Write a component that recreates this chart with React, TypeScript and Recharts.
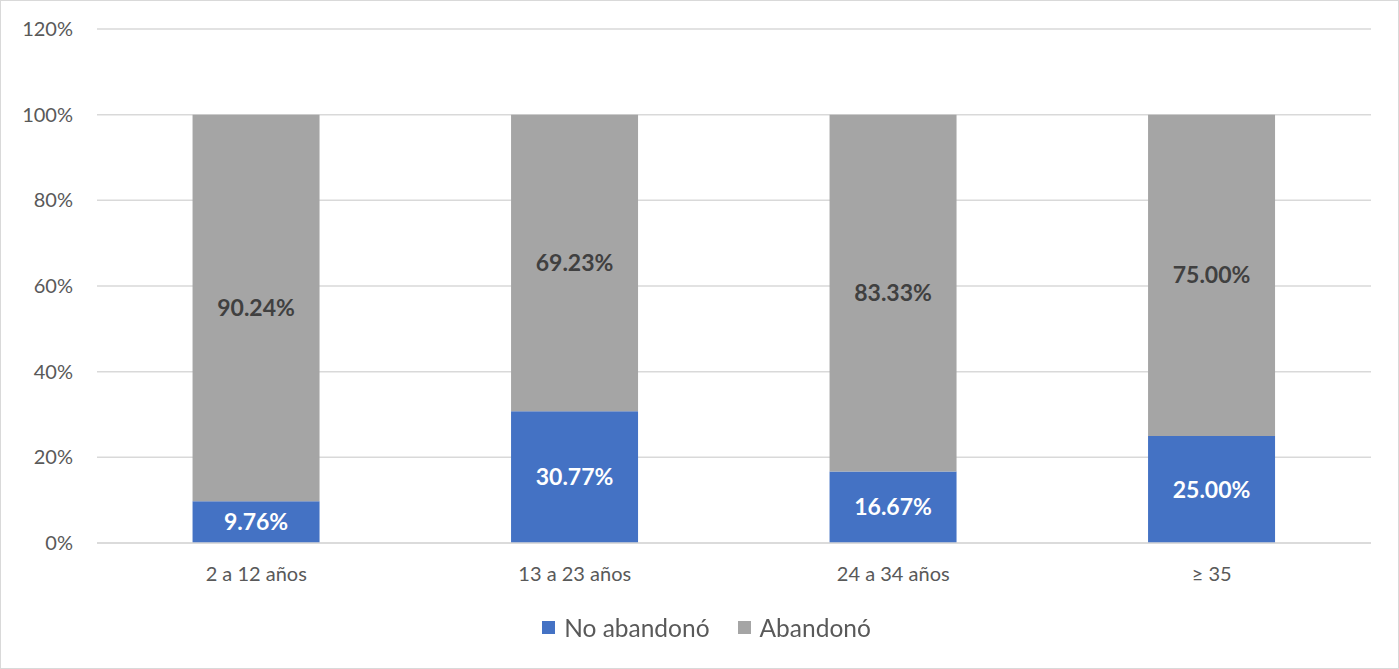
import { BarChart, Bar, XAxis, YAxis, CartesianGrid, Legend, LabelList } from 'recharts';

const categories = ['2 a 12 años', '13 a 23 años', '24 a 34 años', '≥ 35'];
const noAbandono = [9.76, 30.77, 16.67, 25.0];
const abandono = [90.24, 69.23, 83.33, 75.0];
const yTicks = [0, 20, 40, 60, 80, 100, 120];

const BLUE = '#4472C4';
const GREY = '#A5A5A5';
const TEXT = '#595959';
const FONT = 'Lato, sans-serif';

const data = categories.map((c, i) => ({ name: c, no: noAbandono[i], ab: abandono[i] }));

function fmt(v: unknown) {
  return `${Number(v).toFixed(2)}%`;
}

function LegendContent() {
  const items = [
    { label: 'No abandonó', color: BLUE },
    { label: 'Abandonó', color: GREY },
  ];
  return (
    <div style={{ display: 'flex', justifyContent: 'center', gap: 28, fontFamily: FONT, fontSize: 24.5, color: TEXT }}>
      {items.map((it) => (
        <div key={it.label} style={{ display: 'flex', alignItems: 'center' }}>
          <span style={{ display: 'inline-block', width: 13, height: 13, background: it.color, marginRight: 9 }} />
          <span>{it.label}</span>
        </div>
      ))}
    </div>
  );
}

export default function App() {
  return (
    <div
      style={{
        position: 'fixed', left: 0, top: 0, width: 1397, height: 667,
        border: '1px solid #d9d9d9', background: '#fff',
      }}
    >
      <BarChart
        width={1397}
        height={667}
        data={data}
        margin={{ top: 28, right: 27, left: 0, bottom: 65 }}
        barCategoryGap="30%"
      >
        <CartesianGrid vertical={false} stroke="#d9d9d9" strokeWidth={1.5} />
        <XAxis
          dataKey="name"
          tick={{ fill: TEXT, fontSize: 20, fontFamily: FONT }}
          axisLine={{ stroke: '#d9d9d9', strokeWidth: 1.5 }}
          tickLine={false}
          tickMargin={18}
          height={60}
        />
        <YAxis
          domain={[0, 120]}
          ticks={yTicks}
          tickFormatter={(v) => `${v}%`}
          tick={{ fill: TEXT, fontSize: 20, fontFamily: FONT }}
          axisLine={false}
          tickLine={false}
          tickMargin={18}
          width={96}
        />
        <Legend
          verticalAlign="middle"
          align="center"
          wrapperStyle={{ top: 612, left: 7, width: 1397 }}
          content={<LegendContent />}
        />
        <Bar dataKey="no" stackId="s" fill={BLUE} isAnimationActive={false}>
          <LabelList dataKey="no" position="center" formatter={fmt} fill="#ffffff" fontSize={23} fontWeight={700} fontFamily={FONT} />
        </Bar>
        <Bar dataKey="ab" stackId="s" fill={GREY} isAnimationActive={false}>
          <LabelList dataKey="ab" position="center" formatter={fmt} fill="#404040" fontSize={23} fontWeight={700} fontFamily={FONT} />
        </Bar>
      </BarChart>
    </div>
  );
}
